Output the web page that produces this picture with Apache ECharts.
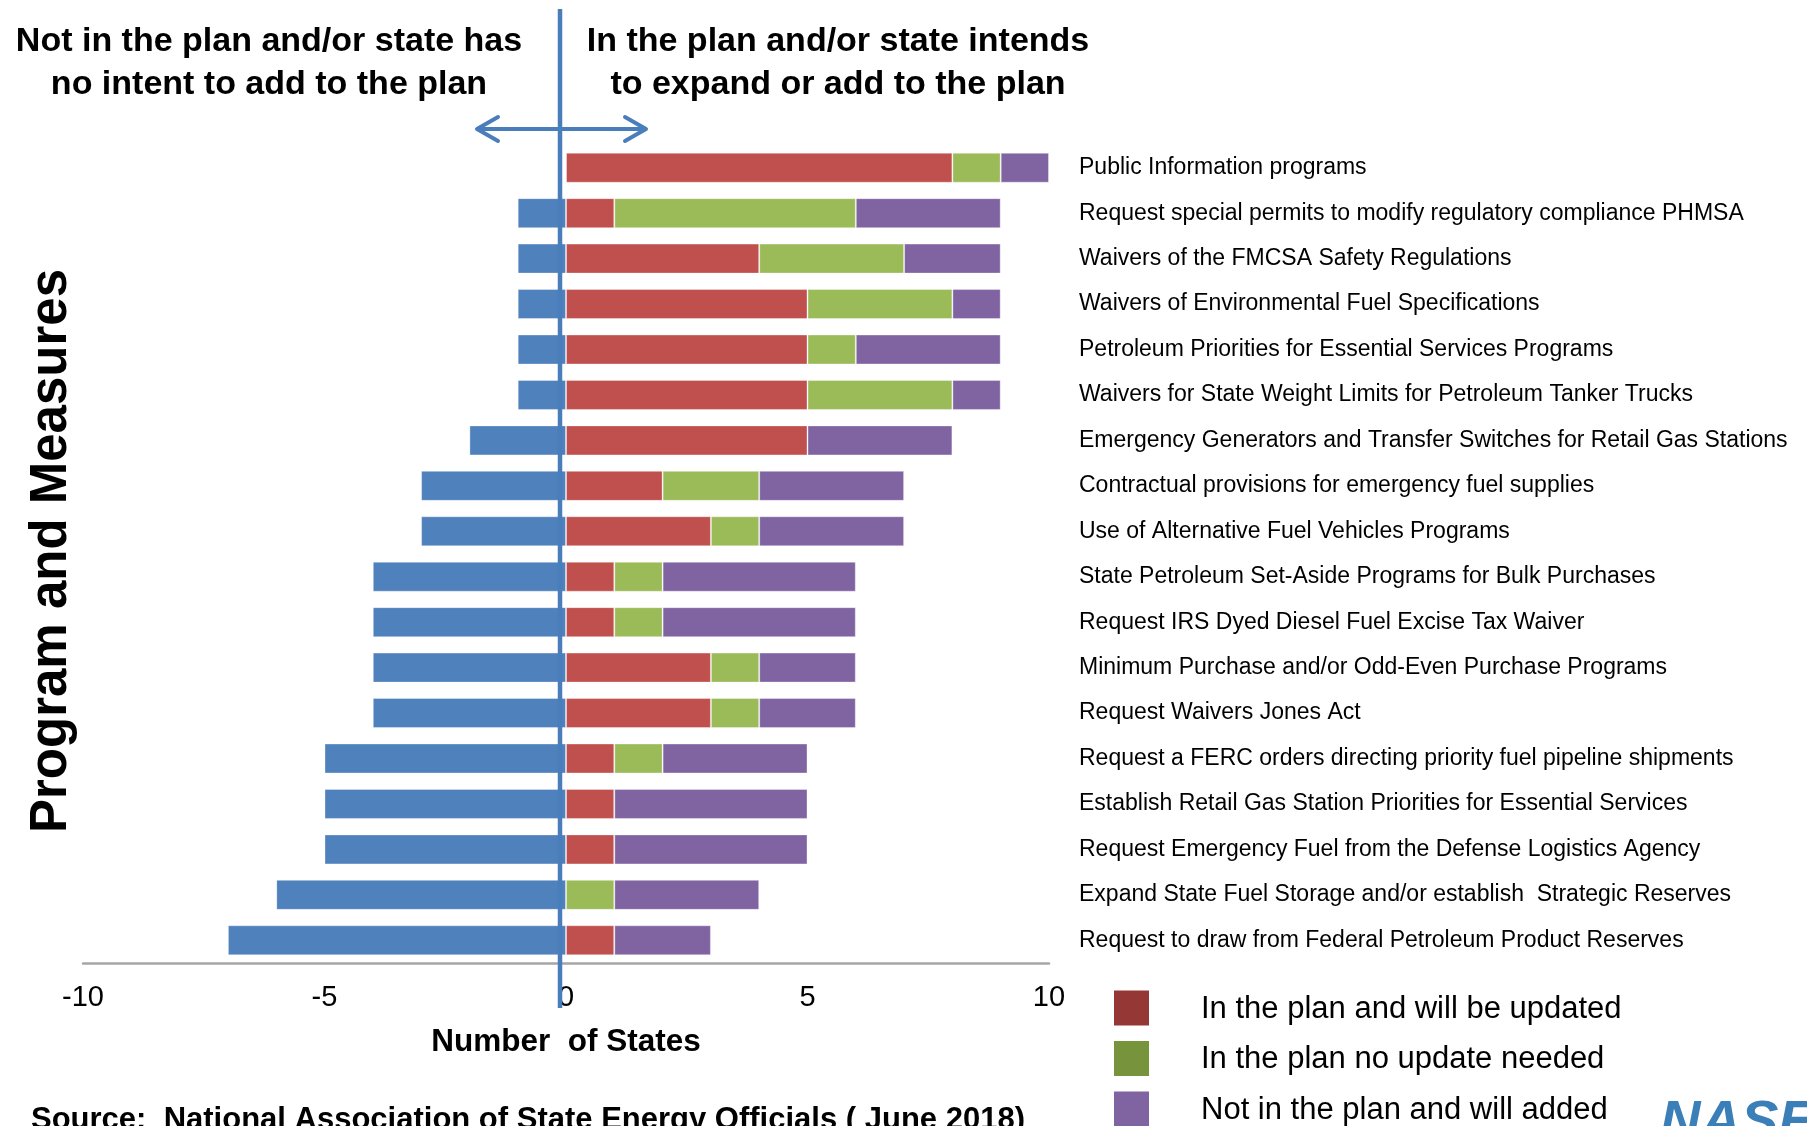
<!DOCTYPE html>
<html>
<head>
<meta charset="utf-8">
<script src="https://cdn.jsdelivr.net/npm/echarts@6/dist/echarts.min.js"></script>
<style>
html,body{margin:0;padding:0;background:#fff;}
#chart{width:1807px;height:1126px;}
</style>
</head>
<body>
<div id="chart"></div>
<script>
// ---- data ----
const categories = [
  "Public Information programs",
  "Request special permits to modify regulatory compliance PHMSA",
  "Waivers of the FMCSA Safety Regulations",
  "Waivers of Environmental Fuel Specifications",
  "Petroleum Priorities for Essential Services Programs",
  "Waivers for State Weight Limits for Petroleum Tanker Trucks",
  "Emergency Generators and Transfer Switches for Retail Gas Stations",
  "Contractual provisions for emergency fuel supplies",
  "Use of Alternative Fuel Vehicles Programs",
  "State Petroleum Set-Aside Programs for Bulk Purchases",
  "Request IRS Dyed Diesel Fuel Excise Tax Waiver",
  "Minimum Purchase and/or Odd-Even Purchase Programs",
  "Request Waivers Jones Act",
  "Request a FERC orders directing priority fuel pipeline shipments",
  "Establish Retail Gas Station Priorities for Essential Services",
  "Request Emergency Fuel from the Defense Logistics Agency",
  "Expand State Fuel Storage and/or establish  Strategic Reserves",
  "Request to draw from Federal Petroleum Product Reserves"
];
const notInPlanNoIntent = [0, -1, -1, -1, -1, -1, -2, -3, -3, -4, -4, -4, -4, -5, -5, -5, -6, -7];
const inPlanWillUpdate  = [8, 1, 4, 5, 5, 5, 5, 2, 3, 1, 1, 3, 3, 1, 1, 1, 0, 1];
const inPlanNoUpdate    = [1, 5, 3, 3, 1, 3, 0, 2, 1, 1, 1, 1, 1, 1, 0, 0, 1, 0];
const notInPlanWillAdd  = [1, 3, 2, 1, 3, 1, 3, 3, 3, 4, 4, 2, 2, 3, 4, 4, 3, 2];
const seriesNames = ["In the plan and will be updated", "In the plan no update needed", "Not in the plan and will added"];
const legendColors = ["#953735", "#77933C", "#8064A2"];
const xTicks = [-10, -5, 0, 5, 10];

const FONT = "'Liberation Sans', Arial, sans-serif";
const chart = echarts.init(document.getElementById('chart'), null, {renderer: 'canvas'});

const barCommon = {type: 'bar', stack: 'total', barWidth: 30, emphasis: {disabled: true},
  itemStyle: {borderColor: 'rgba(255,255,255,0.35)', borderWidth: 1}};

// legend drawn as graphic (vertical list below the category labels)
const legendGraphics = [];
seriesNames.forEach(function (name, i) {
  const cy = 1008 + i * 50.5;
  legendGraphics.push({type: 'rect', z: 10, shape: {x: 1114, y: cy - 17.5, width: 35, height: 35}, style: {fill: legendColors[i]}});
  legendGraphics.push({type: 'text', z: 10, x: 1201, y: cy + 1, style: {text: name, font: "31px " + FONT, fill: '#000', textAlign: 'left', textVerticalAlign: 'middle'}});
});

chart.setOption({
  backgroundColor: '#ffffff',
  animation: false,
  textStyle: {fontFamily: FONT},
  grid: {left: 83, right: 758, top: 145, bottom: 163, containLabel: false},
  xAxis: {
    type: 'value', min: xTicks[0], max: xTicks[xTicks.length - 1], interval: 5,
    axisLine: {show: true, onZero: false, lineStyle: {color: '#A6A6A6', width: 2.5}},
    axisTick: {show: false},
    splitLine: {show: false},
    axisLabel: {fontSize: 29, color: '#000', margin: 20, fontFamily: FONT},
    name: 'Number  of States', nameLocation: 'middle', nameGap: 63,
    nameTextStyle: {fontSize: 31.5, fontWeight: 'bold', color: '#000', fontFamily: FONT}
  },
  yAxis: {
    type: 'category', data: categories, inverse: true, position: 'right',
    axisLine: {show: false}, axisTick: {show: false},
    axisLabel: {fontSize: 23, color: '#000', margin: 30, align: 'left', padding: [4, 0, 0, 0], fontFamily: FONT}
  },
  series: [
    Object.assign({}, barCommon, {name: 'Not in the plan and/or state has no intent', data: notInPlanNoIntent, itemStyle: Object.assign({}, barCommon.itemStyle, {color: '#4F81BD'})}),
    Object.assign({}, barCommon, {name: seriesNames[0], data: inPlanWillUpdate, itemStyle: Object.assign({}, barCommon.itemStyle, {color: '#C0504D'})}),
    Object.assign({}, barCommon, {name: seriesNames[1], data: inPlanNoUpdate, itemStyle: Object.assign({}, barCommon.itemStyle, {color: '#9BBB59'})}),
    Object.assign({}, barCommon, {name: seriesNames[2], data: notInPlanWillAdd, itemStyle: Object.assign({}, barCommon.itemStyle, {color: '#8064A2'})})
  ],
  graphic: [
    {type: 'text', x: 269, y: 42, z: 10, style: {text: 'Not in the plan and/or state has', font: "bold 34px " + FONT, fill: '#000', textAlign: 'center', textVerticalAlign: 'middle'}},
    {type: 'text', x: 269, y: 85, z: 10, style: {text: 'no intent to add to the plan', font: "bold 34px " + FONT, fill: '#000', textAlign: 'center', textVerticalAlign: 'middle'}},
    {type: 'text', x: 838, y: 42, z: 10, style: {text: 'In the plan and/or state intends', font: "bold 34px " + FONT, fill: '#000', textAlign: 'center', textVerticalAlign: 'middle'}},
    {type: 'text', x: 838, y: 85, z: 10, style: {text: 'to expand or add to the plan', font: "bold 34px " + FONT, fill: '#000', textAlign: 'center', textVerticalAlign: 'middle'}},
    {type: 'text', x: 52, y: 551, rotation: Math.PI / 2, z: 10, style: {text: 'Program and Measures', font: "bold 51px " + FONT, fill: '#000', textAlign: 'center', textVerticalAlign: 'middle'}},
    {type: 'text', x: 31, y: 1120, z: 10, style: {text: 'Source:  National Association of State Energy Officials ( June 2018)', font: "bold 31px " + FONT, fill: '#000', textAlign: 'left', textVerticalAlign: 'middle'}},
    {type: 'text', x: 1660, y: 1096, z: 10, style: {text: 'NASEO', font: "italic bold 56px " + FONT, fill: '#3A7FB8', textAlign: 'left', textVerticalAlign: 'top'}},
    // vertical divider
    {type: 'line', z: 20, shape: {x1: 560, y1: 9, x2: 560, y2: 1008}, style: {stroke: '#4A7EBB', lineWidth: 4.5}},
    // double-headed arrow
    {type: 'line', z: 20, shape: {x1: 477, y1: 129, x2: 646, y2: 129}, style: {stroke: '#4A7EBB', lineWidth: 4}},
    {type: 'polyline', z: 20, shape: {points: [[498, 117], [477, 129], [498, 141]]}, style: {stroke: '#4A7EBB', lineWidth: 4, fill: null, lineCap: 'round', lineJoin: 'round'}},
    {type: 'polyline', z: 20, shape: {points: [[625, 117], [646, 129], [625, 141]]}, style: {stroke: '#4A7EBB', lineWidth: 4, fill: null, lineCap: 'round', lineJoin: 'round'}}
  ].concat(legendGraphics)
});
</script>
</body>
</html>
